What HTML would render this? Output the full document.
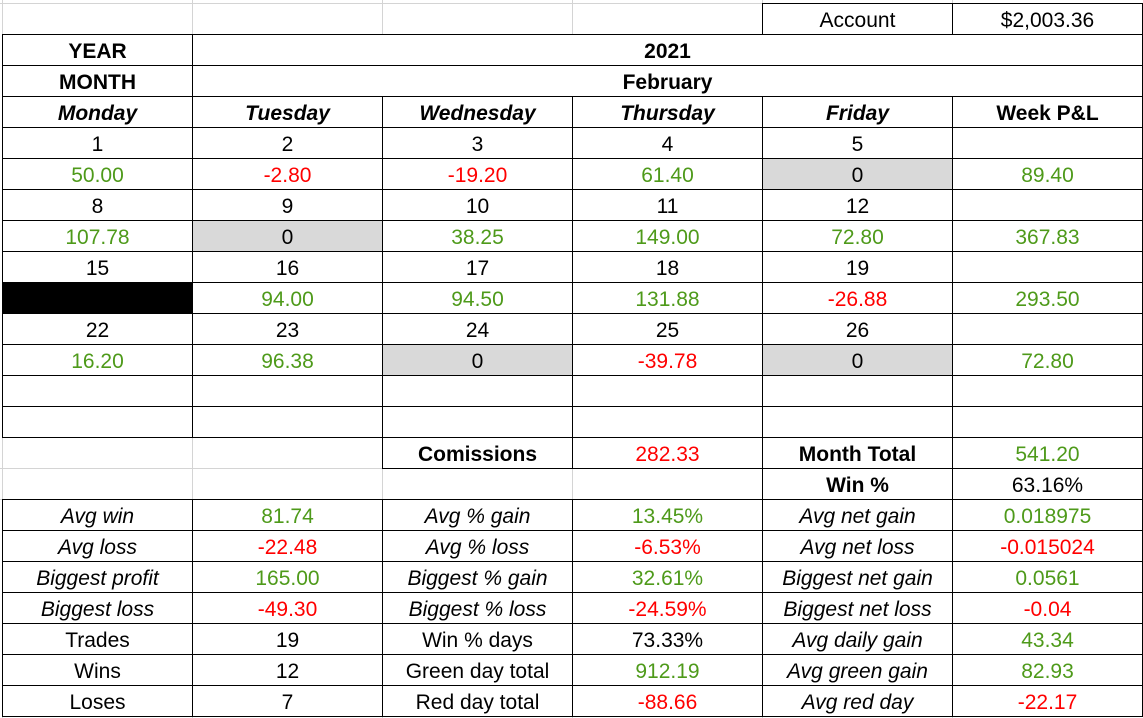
<!DOCTYPE html>
<html><head><meta charset="utf-8"><style>
html,body{margin:0;padding:0;background:#fff;width:1143px;height:718px;overflow:hidden;position:relative;font-family:"Liberation Sans",Arial,sans-serif;font-size:21px;color:#000}
.g{position:absolute;background:#d4d4d4}
.c{position:absolute;box-sizing:border-box;border:1px solid #000;height:32px;width:191px;text-align:center;line-height:30px;padding-top:2px;white-space:nowrap;background:#fff}
.b{font-weight:bold}.i{font-style:italic}.bi{font-weight:bold;font-style:italic}
.gr{color:#4e9a1a}.rd{color:#ff0000}.f{background:#d9d9d9}.k{background:#000}
</style></head><body>
<div class="g" style="left:0;top:3px;width:1143px;height:1px"></div>
<div class="g" style="left:2px;top:0;width:1px;height:718px"></div>
<div class="g" style="left:192px;top:0;width:1px;height:718px"></div>
<div class="g" style="left:382px;top:0;width:1px;height:718px"></div>
<div class="g" style="left:572px;top:0;width:1px;height:718px"></div>
<div class="g" style="left:762px;top:0;width:1px;height:718px"></div>
<div class="g" style="left:952px;top:0;width:1px;height:718px"></div>
<div class="g" style="left:0;top:468px;width:1143px;height:1px"></div>
<div class="g" style="left:0;top:499px;width:1143px;height:1px"></div>

<div class="c" style="left:762px;top:3px">Account</div>
<div class="c" style="left:952px;top:3px">$2,003.36</div>

<div class="c b" style="left:2px;top:34px">YEAR</div>
<div class="c b" style="left:192px;top:34px;width:951px">2021</div>
<div class="c b" style="left:2px;top:65px">MONTH</div>
<div class="c b" style="left:192px;top:65px;width:951px">February</div>

<div class="c bi" style="left:2px;top:96px">Monday</div>
<div class="c bi" style="left:192px;top:96px">Tuesday</div>
<div class="c bi" style="left:382px;top:96px">Wednesday</div>
<div class="c bi" style="left:572px;top:96px">Thursday</div>
<div class="c bi" style="left:762px;top:96px">Friday</div>
<div class="c b" style="left:952px;top:96px">Week P&amp;L</div>

<div class="c" style="left:2px;top:127px">1</div>
<div class="c" style="left:192px;top:127px">2</div>
<div class="c" style="left:382px;top:127px">3</div>
<div class="c" style="left:572px;top:127px">4</div>
<div class="c" style="left:762px;top:127px">5</div>
<div class="c" style="left:952px;top:127px"></div>
<div class="c gr" style="left:2px;top:158px">50.00</div>
<div class="c rd" style="left:192px;top:158px">-2.80</div>
<div class="c rd" style="left:382px;top:158px">-19.20</div>
<div class="c gr" style="left:572px;top:158px">61.40</div>
<div class="c f" style="left:762px;top:158px">0</div>
<div class="c gr" style="left:952px;top:158px">89.40</div>

<div class="c" style="left:2px;top:189px">8</div>
<div class="c" style="left:192px;top:189px">9</div>
<div class="c" style="left:382px;top:189px">10</div>
<div class="c" style="left:572px;top:189px">11</div>
<div class="c" style="left:762px;top:189px">12</div>
<div class="c" style="left:952px;top:189px"></div>
<div class="c gr" style="left:2px;top:220px">107.78</div>
<div class="c f" style="left:192px;top:220px">0</div>
<div class="c gr" style="left:382px;top:220px">38.25</div>
<div class="c gr" style="left:572px;top:220px">149.00</div>
<div class="c gr" style="left:762px;top:220px">72.80</div>
<div class="c gr" style="left:952px;top:220px">367.83</div>

<div class="c" style="left:2px;top:251px">15</div>
<div class="c" style="left:192px;top:251px">16</div>
<div class="c" style="left:382px;top:251px">17</div>
<div class="c" style="left:572px;top:251px">18</div>
<div class="c" style="left:762px;top:251px">19</div>
<div class="c" style="left:952px;top:251px"></div>
<div class="c k" style="left:2px;top:282px"></div>
<div class="c gr" style="left:192px;top:282px">94.00</div>
<div class="c gr" style="left:382px;top:282px">94.50</div>
<div class="c gr" style="left:572px;top:282px">131.88</div>
<div class="c rd" style="left:762px;top:282px">-26.88</div>
<div class="c gr" style="left:952px;top:282px">293.50</div>

<div class="c" style="left:2px;top:313px">22</div>
<div class="c" style="left:192px;top:313px">23</div>
<div class="c" style="left:382px;top:313px">24</div>
<div class="c" style="left:572px;top:313px">25</div>
<div class="c" style="left:762px;top:313px">26</div>
<div class="c" style="left:952px;top:313px"></div>
<div class="c gr" style="left:2px;top:344px">16.20</div>
<div class="c gr" style="left:192px;top:344px">96.38</div>
<div class="c f" style="left:382px;top:344px">0</div>
<div class="c rd" style="left:572px;top:344px">-39.78</div>
<div class="c f" style="left:762px;top:344px">0</div>
<div class="c gr" style="left:952px;top:344px">72.80</div>

<div class="c" style="left:2px;top:375px"></div>
<div class="c" style="left:192px;top:375px"></div>
<div class="c" style="left:382px;top:375px"></div>
<div class="c" style="left:572px;top:375px"></div>
<div class="c" style="left:762px;top:375px"></div>
<div class="c" style="left:952px;top:375px"></div>
<div class="c" style="left:2px;top:406px"></div>
<div class="c" style="left:192px;top:406px"></div>
<div class="c" style="left:382px;top:406px"></div>
<div class="c" style="left:572px;top:406px"></div>
<div class="c" style="left:762px;top:406px"></div>
<div class="c" style="left:952px;top:406px"></div>

<div class="c b" style="left:382px;top:437px">Comissions</div>
<div class="c rd" style="left:572px;top:437px">282.33</div>
<div class="c b" style="left:762px;top:437px">Month Total</div>
<div class="c gr" style="left:952px;top:437px">541.20</div>
<div class="c b" style="left:762px;top:468px">Win %</div>
<div class="c" style="left:952px;top:468px">63.16%</div>

<div class="c i" style="left:2px;top:499px">Avg win</div>
<div class="c gr" style="left:192px;top:499px">81.74</div>
<div class="c i" style="left:382px;top:499px">Avg % gain</div>
<div class="c gr" style="left:572px;top:499px">13.45%</div>
<div class="c i" style="left:762px;top:499px">Avg net gain</div>
<div class="c gr" style="left:952px;top:499px">0.018975</div>

<div class="c i" style="left:2px;top:530px">Avg loss</div>
<div class="c rd" style="left:192px;top:530px">-22.48</div>
<div class="c i" style="left:382px;top:530px">Avg % loss</div>
<div class="c rd" style="left:572px;top:530px">-6.53%</div>
<div class="c i" style="left:762px;top:530px">Avg net loss</div>
<div class="c rd" style="left:952px;top:530px">-0.015024</div>

<div class="c i" style="left:2px;top:561px">Biggest profit</div>
<div class="c gr" style="left:192px;top:561px">165.00</div>
<div class="c i" style="left:382px;top:561px">Biggest % gain</div>
<div class="c gr" style="left:572px;top:561px">32.61%</div>
<div class="c i" style="left:762px;top:561px">Biggest net gain</div>
<div class="c gr" style="left:952px;top:561px">0.0561</div>

<div class="c i" style="left:2px;top:592px">Biggest loss</div>
<div class="c rd" style="left:192px;top:592px">-49.30</div>
<div class="c i" style="left:382px;top:592px">Biggest % loss</div>
<div class="c rd" style="left:572px;top:592px">-24.59%</div>
<div class="c i" style="left:762px;top:592px">Biggest net loss</div>
<div class="c rd" style="left:952px;top:592px">-0.04</div>

<div class="c" style="left:2px;top:623px">Trades</div>
<div class="c" style="left:192px;top:623px">19</div>
<div class="c" style="left:382px;top:623px">Win % days</div>
<div class="c" style="left:572px;top:623px">73.33%</div>
<div class="c i" style="left:762px;top:623px">Avg daily gain</div>
<div class="c gr" style="left:952px;top:623px">43.34</div>

<div class="c" style="left:2px;top:654px">Wins</div>
<div class="c" style="left:192px;top:654px">12</div>
<div class="c" style="left:382px;top:654px">Green day total</div>
<div class="c gr" style="left:572px;top:654px">912.19</div>
<div class="c i" style="left:762px;top:654px">Avg green gain</div>
<div class="c gr" style="left:952px;top:654px">82.93</div>

<div class="c" style="left:2px;top:685px">Loses</div>
<div class="c" style="left:192px;top:685px">7</div>
<div class="c" style="left:382px;top:685px">Red day total</div>
<div class="c rd" style="left:572px;top:685px">-88.66</div>
<div class="c i" style="left:762px;top:685px">Avg red day</div>
<div class="c rd" style="left:952px;top:685px">-22.17</div>
</body></html>
